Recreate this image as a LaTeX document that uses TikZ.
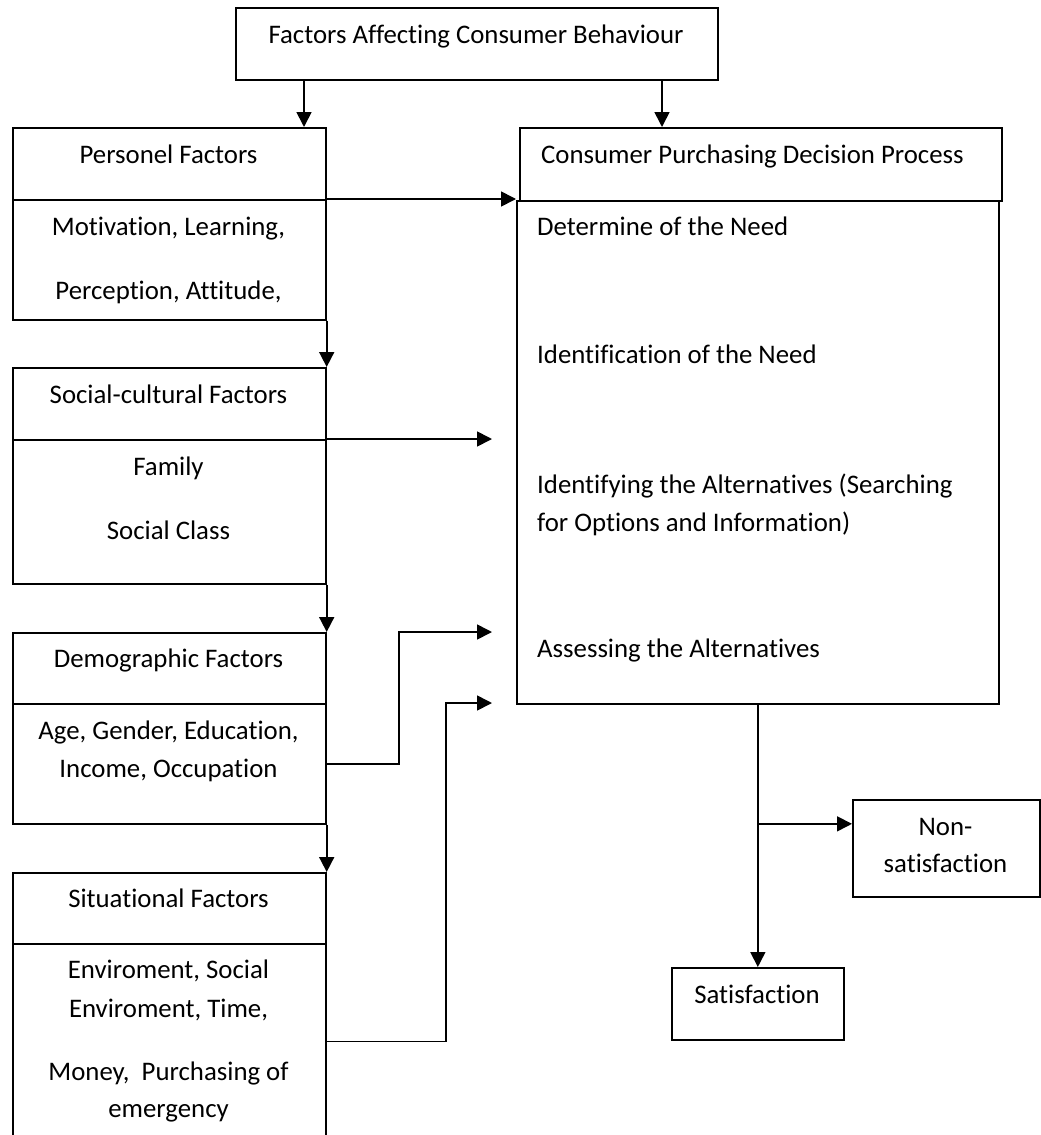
\documentclass[tikz,border=0pt]{standalone}
\usepackage{fontspec}
\setmainfont{Carlito}[Ligatures=CommonOff]
\usetikzlibrary{arrows.meta}

\begin{document}
\begin{tikzpicture}[x=1pt, y=-1pt,
  box/.style={draw, line width=1.7pt, anchor=north west, inner sep=0pt},
  txt/.style={anchor=base, inner sep=0pt, font=\fontsize{26.8}{32}\selectfont},
  ltxt/.style={txt, anchor=base west},
  arr/.style={line width=1.7pt, -{Triangle[length=15pt,width=15pt]}}]
\useasboundingbox (0,0) rectangle (1041,1135);

% boxes
\node [box, minimum width=482pt, minimum height=72pt] (top) at (235,7) {};
\node [box, minimum width=313pt, minimum height=72pt] (persH) at (12,127) {};
\node [box, minimum width=313pt, minimum height=120pt] (persB) at (12,199) {};
\node [box, minimum width=482pt, minimum height=73pt] (consH) at (519,127) {};
\node [box, minimum width=482pt, minimum height=503pt] (consB) at (516,200) {};
\node [box, minimum width=313pt, minimum height=72pt] (socH) at (12,367) {};
\node [box, minimum width=313pt, minimum height=144pt] (socB) at (12,439) {};
\node [box, minimum width=313pt, minimum height=71pt] (demH) at (12,632) {};
\node [box, minimum width=313pt, minimum height=120pt] (demB) at (12,703) {};
\node [box, minimum width=313pt, minimum height=71pt] (sitH) at (12,872) {};
\node [box, minimum width=313pt, minimum height=195pt] (sitB) at (12,943) {};
\node [box, minimum width=187pt, minimum height=97pt] (nonsat) at (852,799) {};
\node [box, minimum width=172pt, minimum height=72pt] (sat) at (671,967) {};

% texts
\node [txt] (topT) at (476,43) {Factors Affecting Consumer Behaviour};
\node [txt] (persT) at (168.5,163) {Personel Factors};
\node [txt] (persL1) at (168.5,235) {Motivation, Learning,};
\node [txt] (persL2) at (168.5,299) {Perception, Attitude,};
\node [ltxt] (consT) at (541,163) {Consumer Purchasing Decision Process};
\node [ltxt] (consL1) at (537,235) {Determine of the Need};
\node [ltxt] (consL2) at (537,363) {Identification of the Need};
\node [ltxt] (consL3) at (537,493) {Identifying the Alternatives (Searching};
\node [ltxt] (consL4) at (537,531) {for Options and Information)};
\node [ltxt] (consL5) at (537,657) {Assessing the Alternatives};
\node [txt] (socT) at (168.5,403) {Social-cultural Factors};
\node [txt] (socL1) at (168.5,475) {Family};
\node [txt] (socL2) at (168.5,539) {Social Class};
\node [txt] (demT) at (168.5,667) {Demographic Factors};
\node [txt] (demL1) at (168.5,739) {Age, Gender, Education,};
\node [txt] (demL2) at (168.5,777) {Income, Occupation};
\node [txt] (sitT) at (168.5,907) {Situational Factors};
\node [txt] (sitL1) at (168.5,978) {Enviroment, Social};
\node [txt] (sitL2) at (168.5,1017) {Enviroment, Time,};
\node [txt] (sitL3) at (168.5,1080) {Money,\ \ Purchasing of};
\node [txt] (sitL4) at (168.5,1117) {emergency};
\node [txt] (nsL1) at (945.5,835) {Non-};
\node [txt] (nsL2) at (945.5,872) {satisfaction};
\node [txt] (satT) at (757,1003) {Satisfaction};

% free ends
\coordinate (socEnd) at (492,439);
\coordinate (demEnd) at (492,632);
\coordinate (sitEnd) at (492,703);
\coordinate (nsIn) at ([yshift=24.5pt]nonsat.west);

% connectors
\draw [arr] ([xshift=69pt]top.south west) -- ([xshift=69pt]top.south west |- persH.north);
\draw [arr] ([xshift=427pt]top.south west) -- ([xshift=427pt]top.south west |- consH.north);
\draw [arr] (persB.north east) -- (persB.north east -| consB.west);
\draw [arr] (persB.south east) -- (socH.north east);
\draw [arr] (socB.north east) -- (socEnd);
\draw [arr] (socB.south east) -- (demH.north east);
\draw [arr] (demB.east) -- ++(72,0) |- (demEnd);
\draw [arr] (demB.south east) -- (sitH.north east);
\draw [arr] (sitB.east) -- ++(119,0) |- (sitEnd);
\draw [arr] (consB.south -| sat.north) -- (sat.north);
\draw [arr] (nsIn -| sat.north) -- (nsIn);
\end{tikzpicture}
\end{document}
